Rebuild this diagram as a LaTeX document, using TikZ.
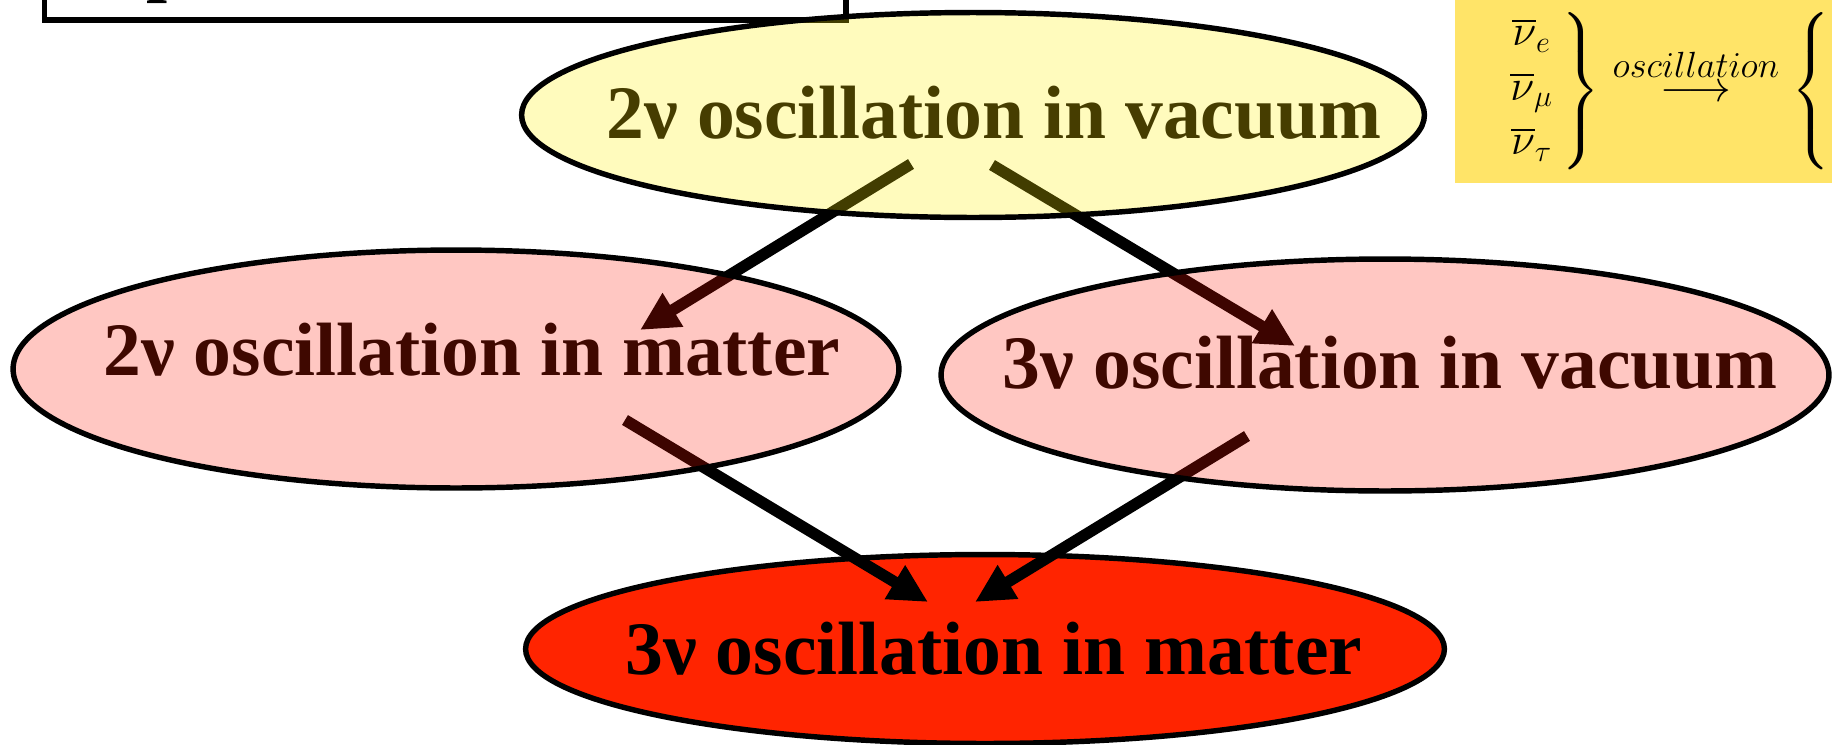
\documentclass[tikz,border=0pt]{standalone}
\usepackage{exscale}
\usepackage{fontspec}
\setmainfont{Liberation Serif}
\usetikzlibrary{shapes.geometric,arrows.meta}
\pgfdeclarelayer{backlayer}
\pgfdeclarelayer{edgelayer}
\pgfdeclarelayer{nodelayer}
\pgfsetlayers{backlayer,edgelayer,nodelayer,main}
\definecolor{oscyellow}{RGB}{255,238,0}
\definecolor{oscolive}{RGB}{70,61,0}
\definecolor{oscred}{RGB}{255,20,0}
\definecolor{oscbrown}{RGB}{63,8,0}
\definecolor{oscfull}{RGB}{255,36,0}
\definecolor{panelgold}{RGB}{255,228,104}
\newcommand{\flavourcol}{\begin{array}{c}\overline{\nu}_e\\[5pt]\overline{\nu}_\mu\\[5pt]\overline{\nu}_\tau\end{array}}
\tikzstyle{bubble}=[ellipse, draw=black, line width=3.1pt, inner sep=0pt]
\tikzstyle{caption}=[inner sep=0pt, font=\fontsize{43}{48}\selectfont\bfseries]
\tikzstyle{flow}=[draw=black, line width=6.5pt, -{Triangle[length=22pt,width=21pt]}]
\tikzstyle{frame}=[draw=black, fill=white, line width=3.1pt]

\begin{document}
\begin{tikzpicture}[x=0.02cm, y=-0.02cm]
				\useasboundingbox (0,0) rectangle (1832,744);
				\begin{pgfonlayer}{backlayer}
					\draw [style=frame] (44.5,-60) rectangle (846,20);
					\node [style=caption, anchor=base west] (heading) at (146,-13) {p};
					\fill [panelgold] (1455,-5) rectangle (1840,183);
					\node [anchor=west, inner sep=0pt, font=\fontsize{24}{26}\selectfont] (flavours) at (1499,91) {$\left.\flavourcol\right\}\stackrel{\mbox{\fontsize{21}{22}\selectfont$oscillation$}}{\longrightarrow}\left\{\vphantom{\flavourcol}\right.$};
					\node [style=bubble, fill=oscfull, minimum width=18.38cm, minimum height=3.78cm] (mat3) at (985,649) {};
					\node [style=caption] (mat3text) at ([xshift=5]mat3.center) {3ν oscillation in matter};
				\end{pgfonlayer}
				\begin{pgfonlayer}{nodelayer}
					\node [style=bubble, fill=oscyellow, fill opacity=0.26, minimum width=18.06cm, minimum height=4.1cm] (vac2) at (973,115) {};
					\node [style=bubble, fill=oscred, fill opacity=0.24, minimum width=17.72cm, minimum height=4.76cm] (mat2) at (456,369) {};
					\node [style=bubble, fill=oscred, fill opacity=0.24, minimum width=17.76cm, minimum height=4.64cm] (vac3) at (1385,375) {};
					\node [style=caption, text=oscolive] (vac2text) at ([xshift=12,yshift=1]vac2.center) {2ν oscillation in vacuum};
					\node [style=caption, text=oscbrown] (mat2text) at ([xshift=9,yshift=11]mat2.center) {2ν oscillation in matter};
					\node [style=caption, text=oscbrown] (vac3text) at ([xshift=3,yshift=7]vac3.center) {3ν oscillation in vacuum};
				\end{pgfonlayer}
				\begin{pgfonlayer}{edgelayer}
					\draw [style=flow] ([shift={(-62,49)}]vac2.center) to ([shift={(184,-39)}]mat2.center);
					\draw [style=flow] ([shift={(19,50)}]vac2.center) to ([shift={(-90,-29)}]vac3.center);
					\draw [style=flow] ([shift={(169,51)}]mat2.center) to ([shift={(-57,-47)}]mat3.center);
					\draw [style=flow] ([shift={(-138,61)}]vac3.center) to ([shift={(-10,-47)}]mat3.center);
				\end{pgfonlayer}
			\end{tikzpicture}
\end{document}
